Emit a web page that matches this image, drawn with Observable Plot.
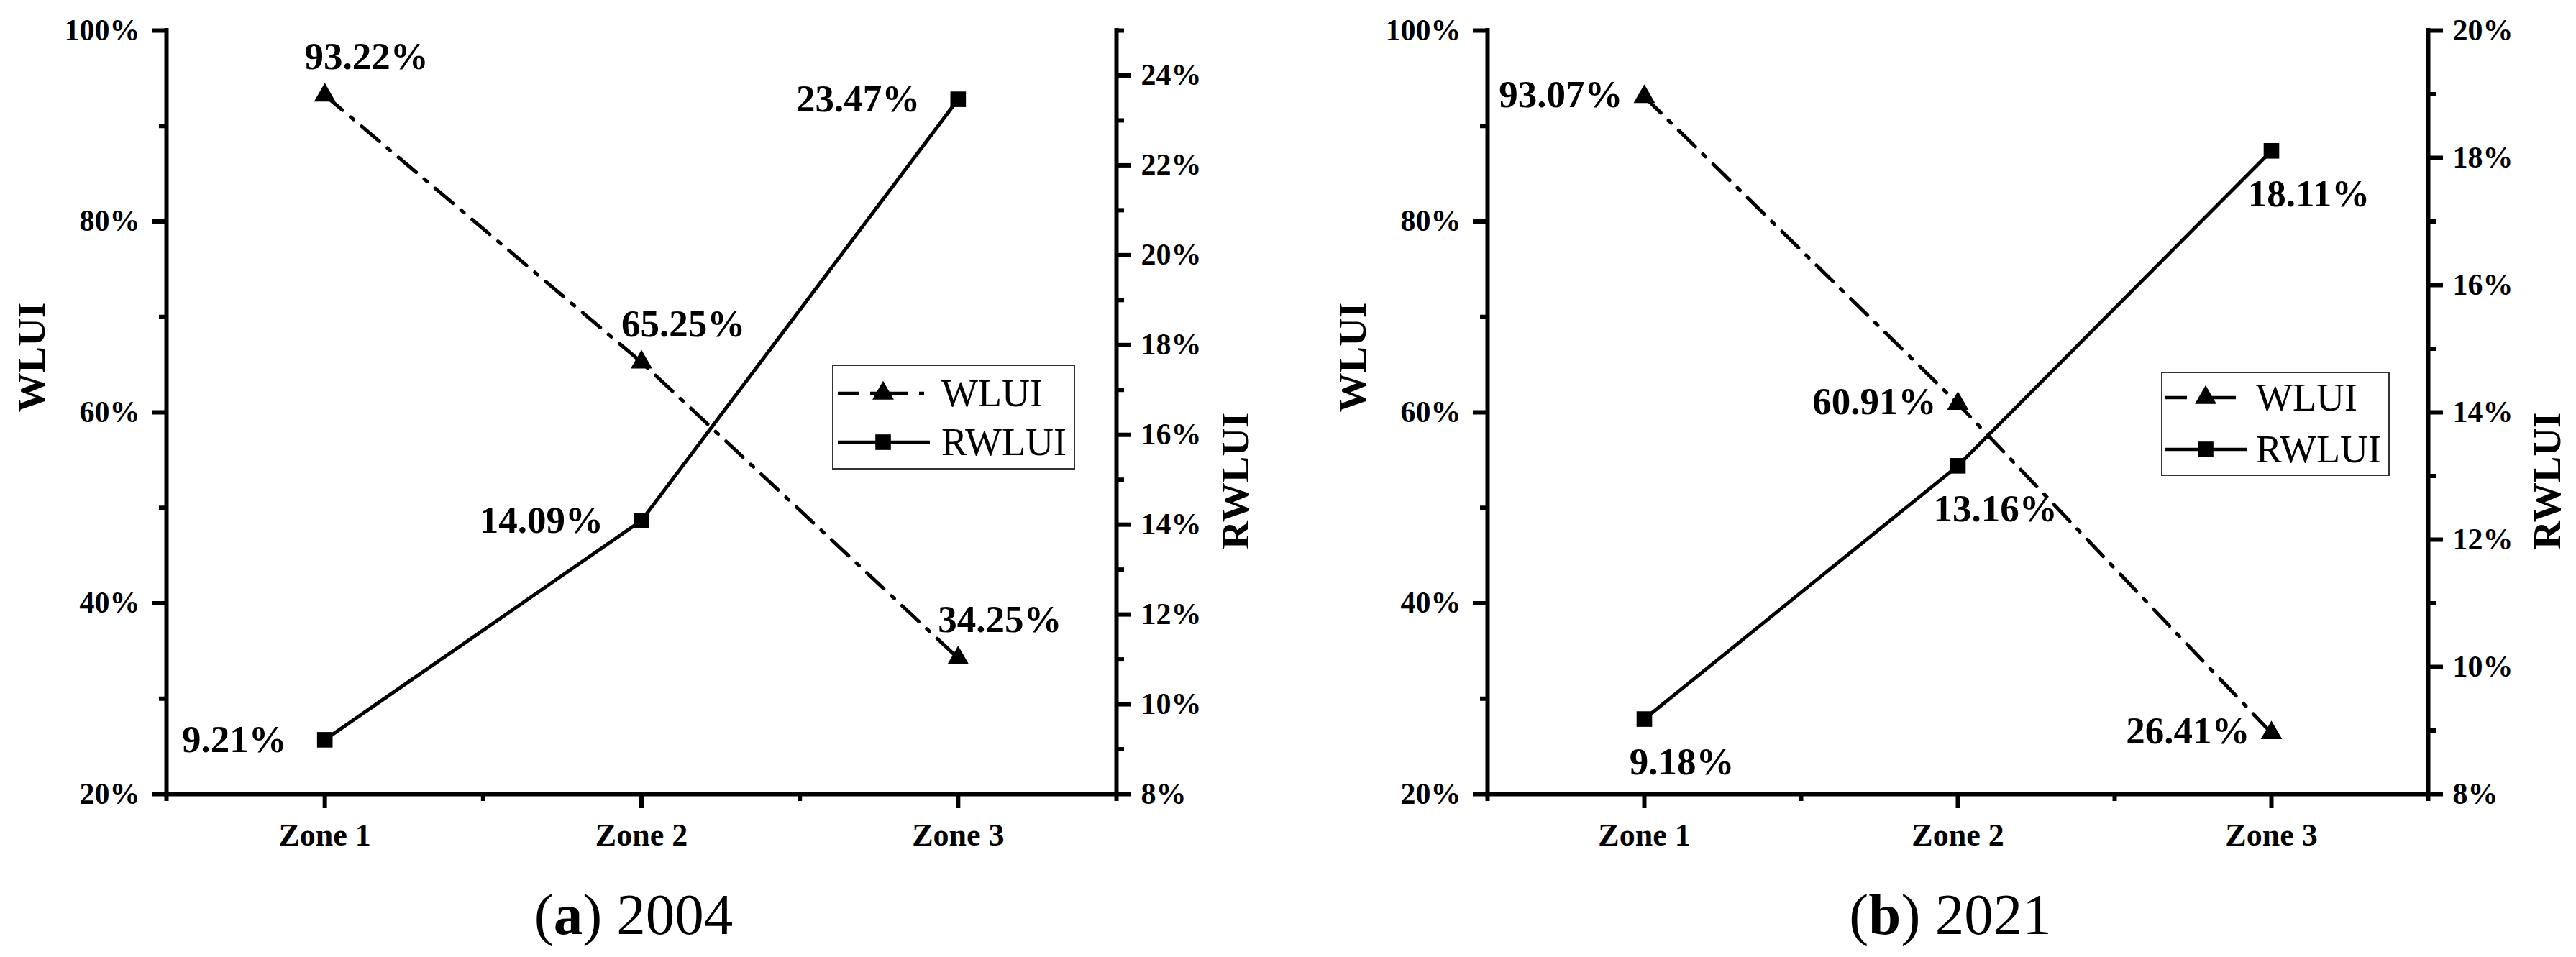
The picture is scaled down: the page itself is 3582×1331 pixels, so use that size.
<!DOCTYPE html>
<html>
<head>
<meta charset="utf-8">
<script src="https://cdn.jsdelivr.net/npm/d3@7"></script>
<script src="https://cdn.jsdelivr.net/npm/@observablehq/plot@0.6"></script>
<style>
html, body { margin: 0; padding: 0; background: #fff; }
#page { position: relative; width: 3582px; height: 1331px; overflow: hidden; background: #fff; }
#page > svg { position: absolute; top: 0; }
</style>
</head>
<body>
<div id="page"></div>
<script>
// ---- data ----
const zones = ["Zone 1", "Zone 2", "Zone 3"];
const wlui2004 = [93.22, 65.25, 34.25];
const rwlui2004 = [9.21, 14.09, 23.47];
const wlui2021 = [93.07, 60.91, 26.41];
const rwlui2021 = [9.18, 13.16, 18.11];
const seriesNames = ["WLUI", "RWLUI"];
const wluiTicks = [20, 40, 60, 80, 100];
const wluiMinor = [30, 50, 70, 90];
const rwluiTicks2004 = [8, 10, 12, 14, 16, 18, 20, 22, 24];
const rwluiMinor2004 = [9, 11, 13, 15, 17, 19, 21, 23, 25];
const rwluiTicks2021 = [8, 10, 12, 14, 16, 18, 20];
const rwluiMinor2021 = [9, 11, 13, 15, 17, 19];
const captionLetters = ["a", "b"];
const captionYears = ["2004", "2021"];

// ---- drawing ----
const FONT = "'Liberation Serif', 'Times New Roman', serif";
const H = 1200, MT = 42, MB = 96;
const DASH = "32,15,5,15";
const rows = vals => vals.map((v, i) => ({zone: zones[i], x: i + 1, v}));
const pct = v => v.toFixed(2) + "%";
const page = document.getElementById("page");

function makePanel(p) {
  const common = {
    width: p.width, height: H,
    marginLeft: p.ml, marginRight: p.mr, marginTop: MT, marginBottom: MB,
    x: {type: "linear", domain: [0.5, 3.5], label: null}
  };
  const base = Plot.plot({
    ...common,
    style: {fontFamily: FONT, background: "white", maxWidth: "none", color: "black", overflow: "visible"},
    y: {type: "linear", domain: [20, 100], label: null},
    marks: [
      Plot.line(rows(p.wlui), {x: "x", y: "v", stroke: "black", strokeWidth: 5, strokeDasharray: DASH}),
      Plot.dot(rows(p.wlui), {x: "x", y: "v", symbol: "triangle", r: 11.1, fill: "black", stroke: "none"}),
      Plot.text(rows(p.wlui), {x: "x", y: "v", text: d => pct(d.v), ...p.wluiLabel, fontSize: 53, fontWeight: "bold", fill: "black"}),
      Plot.axisX({ticks: [1, 2, 3], tickFormat: i => zones[i - 1], tickSize: 20, tickPadding: 20, strokeWidth: 6, fontSize: 44, fontWeight: "bold", label: null}),
      Plot.axisX({ticks: [0.5, 1.5, 2.5, 3.5], tickFormat: () => "", tickSize: 10, strokeWidth: 6, label: null}),
      Plot.axisY({ticks: wluiTicks, tickFormat: d => d + "%", tickSize: 20, tickPadding: 17, strokeWidth: 6, fontSize: 42, fontWeight: "bold", label: null}),
      Plot.axisY({ticks: wluiMinor, tickFormat: () => "", tickSize: 10, strokeWidth: 6, label: null}),
      Plot.ruleX([0.5], {strokeWidth: 6, strokeLinecap: "square"}),
      Plot.ruleY([20], {strokeWidth: 6, strokeLinecap: "square"}),
      Plot.text([seriesNames[0]], {frameAnchor: "left", text: d => d, rotate: -90, dx: -187, fontSize: 55, fontWeight: "bold", fill: "black"})
    ]
  });
  const over = Plot.plot({
    ...common,
    x: {...common.x, axis: null},
    style: {fontFamily: FONT, background: "transparent", maxWidth: "none", color: "black", overflow: "visible"},
    y: {type: "linear", domain: p.rdomain, label: null},
    marks: [
      Plot.ruleX([3.5], {strokeWidth: 6, strokeLinecap: "square"}),
      Plot.axisY({anchor: "right", ticks: p.rticks, tickFormat: d => d + "%", tickSize: 20, tickPadding: 14, strokeWidth: 6, fontSize: 42, fontWeight: "bold", label: null}),
      Plot.axisY({anchor: "right", ticks: p.rminor, tickFormat: () => "", tickSize: 10, strokeWidth: 6, label: null}),
      Plot.line(rows(p.rwlui), {x: "x", y: "v", stroke: "black", strokeWidth: 5}),
      Plot.dot(rows(p.rwlui), {x: "x", y: "v", symbol: "square", r: 12.2, fill: "black", stroke: "none"}),
      Plot.text(rows(p.rwlui), {x: "x", y: "v", text: d => pct(d.v), ...p.rwluiLabel, fontSize: 53, fontWeight: "bold", fill: "black"}),
      Plot.text([seriesNames[1]], {frameAnchor: "right", text: d => d, rotate: -90, dx: 166, fontSize: 55, fontWeight: "bold", fill: "black"})
    ]
  });
  for (const svg of [base, over]) {
    svg.style.left = p.left + "px";
    page.appendChild(svg);
  }
}

makePanel({
  left: 0, width: 1790, ml: 231, mr: 238,
  wlui: wlui2004, rwlui: rwlui2004,
  rdomain: [8, 25], rticks: rwluiTicks2004, rminor: rwluiMinor2004,
  wluiLabel: {textAnchor: "middle", dx: 58, dy: -53},
  rwluiLabel: {textAnchor: "end", dx: -53, dy: 0}
});
makePanel({
  left: 1790, width: 1792, ml: 278, mr: 206,
  wlui: wlui2021, rwlui: rwlui2021,
  rdomain: [8, 20], rticks: rwluiTicks2021, rminor: rwluiMinor2021,
  wluiLabel: {textAnchor: "end", dx: -30, dy: -2},
  rwluiLabel: {textAnchor: "middle", dx: 52, dy: 60}
});

// ---- legends and captions (page overlay) ----
const ov = d3.select(page).append("svg")
  .attr("width", 3582).attr("height", 1331)
  .style("left", "0px").style("font-family", FONT);

const legends = [
  {box: [1158, 508, 336, 144], rowsY: [547, 615], x0: 1165, x1: [1286, 1293], mx: 1228, tx: 1309, dash: "30,15,53,15,7"},
  {box: [3006, 518, 316, 143], rowsY: [553, 625], x0: 3011, x1: [3109, 3124], mx: 3067, tx: 3137, dash: "30,26,100"}
];
const triPath = d3.symbol(d3.symbolTriangle, Math.PI * 11.1 * 11.1)();
const sqPath = d3.symbol(d3.symbolSquare, Math.PI * 12.2 * 12.2)();
for (const L of legends) {
  const g = ov.append("g");
  g.append("rect").attr("x", L.box[0]).attr("y", L.box[1]).attr("width", L.box[2]).attr("height", L.box[3])
    .attr("fill", "white").attr("stroke", "#333").attr("stroke-width", 2);
  seriesNames.forEach((name, i) => {
    const y = L.rowsY[i];
    g.append("line").attr("x1", L.x0).attr("x2", L.x1[i]).attr("y1", y).attr("y2", y)
      .attr("stroke", "black").attr("stroke-width", 4.5)
      .attr("stroke-dasharray", i === 0 ? L.dash : null);
    g.append("path").attr("d", i === 0 ? triPath : sqPath)
      .attr("transform", `translate(${L.mx},${y})`).attr("fill", "black");
    g.append("text").attr("x", L.tx).attr("y", y).attr("dominant-baseline", "central")
      .attr("font-size", 54).attr("fill", "black").text(name);
  });
}

const capX = [881, 2712];
captionLetters.forEach((c, i) => {
  const t = ov.append("text").attr("x", capX[i]).attr("y", 1299).attr("text-anchor", "middle")
    .attr("font-size", 81).attr("fill", "black");
  t.append("tspan").text("(");
  t.append("tspan").attr("font-weight", "bold").text(c);
  t.append("tspan").text(") " + captionYears[i]);
});
</script>
</body>
</html>
